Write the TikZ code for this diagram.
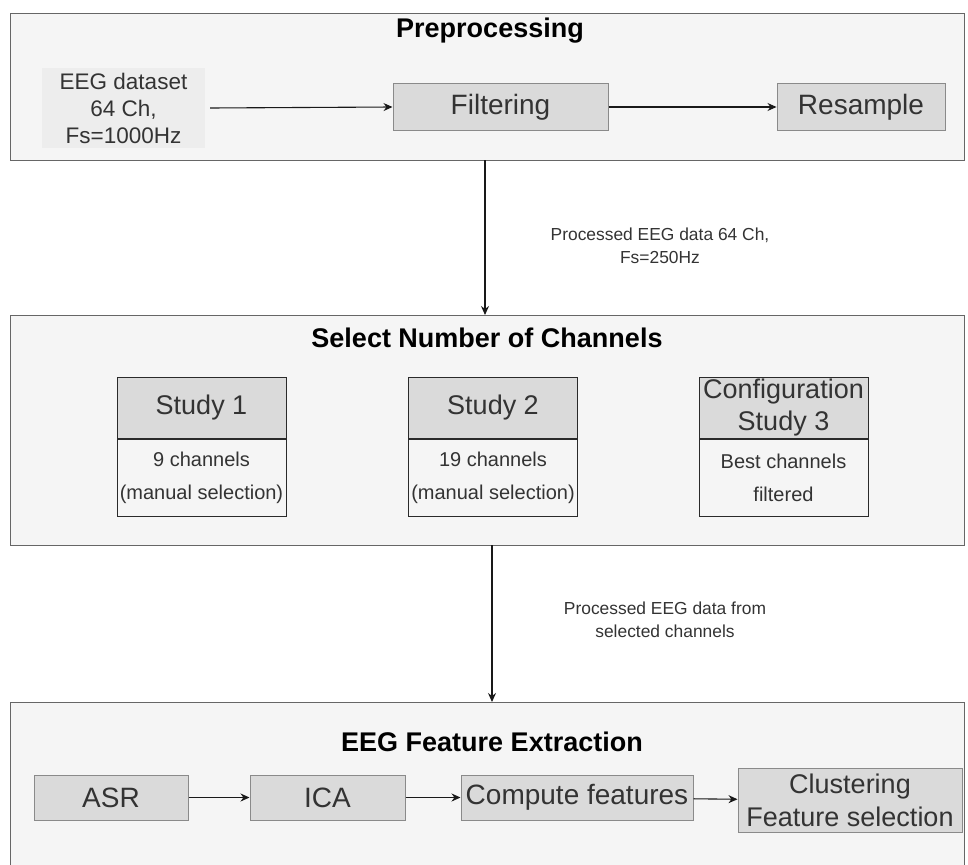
\documentclass[tikz,border=0pt]{standalone}
\usepackage{fontspec}
\setmainfont{Liberation Sans}
\usetikzlibrary{arrows.meta,positioning}
\definecolor{panelfill}{HTML}{F5F5F5}
\definecolor{panelline}{HTML}{666666}
\definecolor{boxfill}{HTML}{DADADA}
\definecolor{boxline}{HTML}{8A8A8A}
\definecolor{datafill}{HTML}{EDEDED}
\definecolor{studyline}{HTML}{2A2A2A}
\definecolor{boxtext}{HTML}{333333}
\definecolor{labeltext}{HTML}{333333}
\tikzset{
  panel/.style={draw=panelline, fill=panelfill, line width=1pt},
  paneltitle/.style={font=\fontsize{27}{30}\selectfont\bfseries, text=black},
  procbox/.style={draw=boxline, fill=boxfill, line width=1pt, rectangle,
    font=\fontsize{28}{30}\selectfont, text=boxtext, inner sep=0pt},
  studyhead/.style={draw=studyline, fill=boxfill, line width=1pt,
    font=\fontsize{27}{32}\selectfont, text=boxtext, align=center},
  studybody/.style={draw=studyline, fill=panelfill, line width=1pt,
    font=\fontsize{20}{33}\selectfont, text=boxtext, align=center},
  flow/.style={-{Stealth[length=9pt,width=8pt]}, line width=1.1pt, draw=black!90},
  edgelabel/.style={font=\fontsize{17.4}{23}\selectfont, text=labeltext, align=center}
}
\begin{document}
\begin{tikzpicture}[x=1pt,y=-1pt]
\useasboundingbox (0,0) rectangle (968,864);
\clip (0,0) rectangle (968,864);

% ---- Preprocessing panel ----
\draw[panel] (10,14) rectangle (964,160);
\node[paneltitle] (pretitle) at (490,31) {Preprocessing};
\node[fill=datafill, minimum width=163pt, minimum height=80pt, inner sep=0pt,
  align=center, font=\fontsize{22.5}{27}\selectfont, text=boxtext]
  (data) at (123.5,108) {EEG dataset\\64 Ch,\\Fs=1000Hz};
\node[procbox, minimum width=215pt, minimum height=46pt] (filt) at (500.5,107) {Filtering};
\node[procbox, minimum width=168pt, minimum height=46pt] (resamp) at (861,107) {Resample};
\draw[flow] (data.east) ++(5,0) coordinate (dataout) -- (filt.west);
\draw[flow] (filt) -- (resamp);

% ---- Channel selection panel ----
\draw[panel] (10,315) rectangle (964,545);
\node[paneltitle] (seltitle) at (487,338) {Select Number of Channels};
\coordinate (prebot) at (485,160);
\coordinate (seltop) at (485,315);
\draw[flow] (prebot) -- (seltop);
\node[edgelabel] (lab1) at (660,246) {Processed EEG data 64 Ch,\\Fs=250Hz};

\foreach \nm/\cx/\head/\body in {
    s1/201.5/{Study 1}/{9 channels\\(manual selection)},
    s2/493/{Study 2}/{19 channels\\(manual selection)},
    s3/783.5/{Configuration\\Study 3}/{Best channels\\filtered}} {
  \node[studyhead, minimum width=169pt, minimum height=61pt, inner sep=0pt]
    (\nm h) at (\cx,407.5) {\head};
  \node[studybody, minimum width=169pt, minimum height=77pt, inner sep=0pt,
    below=0pt of \nm h] (\nm b) {\body};
}

% ---- Feature extraction panel ----
\draw[panel] (10,702) rectangle (964,900);
\node[paneltitle] (fetitle) at (492,742) {EEG Feature Extraction};
\coordinate (selbot) at (492,545);
\coordinate (fetop) at (492,702);
\draw[flow] (selbot) -- (fetop);
\node[edgelabel] (lab2) at (665,620) {Processed EEG data from\\selected channels};

\node[procbox, minimum width=154pt, minimum height=45pt] (asr) at (111,797.5) {ASR};
\node[procbox, minimum width=155pt, minimum height=45pt] (ica) at (327.5,797.5) {ICA};
\node[procbox, minimum width=232pt, minimum height=45pt] (comp) at (577,797.5) {Compute features};
\node[procbox, minimum width=224pt, minimum height=64pt, align=center,
  font=\fontsize{27}{33}\selectfont] (clus) at (850,800.5) {Clustering\\Feature selection};
\draw[flow] (asr) -- (ica);
\draw[flow] (ica) -- (comp);
\draw[flow] (comp) -- (clus);
\end{tikzpicture}
\end{document}
